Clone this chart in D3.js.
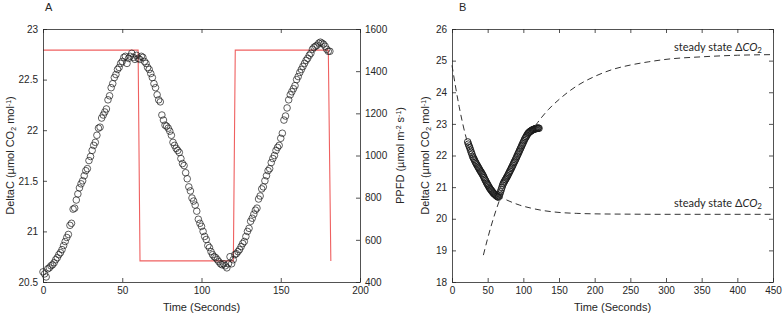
<!DOCTYPE html>
<html>
<head>
<meta charset="utf-8">
<script src="https://cdn.jsdelivr.net/npm/d3@7"></script>
<style>
    body { margin: 0; background: #fff; }
    svg text { font-family: "Liberation Sans", Arial, sans-serif; fill: #262626; }
    .axis path, .axis line { stroke: #262626; stroke-width: 0.8; }
    .axis text { font-size: 10px; }
    .note text { font-family: Lato, "Open Sans", sans-serif; }
</style>
</head>
<body>
<div id="chart"></div>
<script>
//
// Light response chart (A: DeltaC + PPFD vs time, B: DeltaC with steady state fits)
//

const _width = 784;
const _height = 315;
const _plotTop = 29;
const _plotBottom = 282;

// panel A : time (s) and DeltaC, one point per second
var _aTime = d3.range(0, 182);
var _aDeltaC = [
    20.60, 20.58, 20.55, 20.63, 20.64, 20.66, 20.67, 20.69, 20.72, 20.74,
    20.77, 20.79, 20.82, 20.86, 20.90, 20.94, 20.97, 21.06, 21.08, 21.22,
    21.23, 21.31, 21.37, 21.43, 21.47, 21.50, 21.55, 21.60, 21.62, 21.70,
    21.74, 21.80, 21.85, 21.88, 21.95, 22.02, 22.03, 22.12, 22.15, 22.18,
    22.21, 22.30, 22.34, 22.42, 22.46, 22.52, 22.55, 22.60, 22.62, 22.66,
    22.68, 22.72, 22.73, 22.66, 22.71, 22.73, 22.76, 22.72, 22.70, 22.74,
    22.71, 22.70, 22.73, 22.72, 22.68, 22.66, 22.62, 22.60, 22.56, 22.52,
    22.46, 22.42, 22.35, 22.30, 22.28, 22.15, 22.10, 22.05, 22.04, 22.02,
    21.99, 21.95, 21.88, 21.85, 21.82, 21.80, 21.78, 21.72, 21.67, 21.65,
    21.58, 21.52, 21.44, 21.40, 21.33, 21.30, 21.26, 21.20, 21.12, 21.08,
    21.05, 21.00, 20.95, 20.92, 20.86, 20.84, 20.80, 20.77, 20.75, 20.74,
    20.72, 20.70, 20.68, 20.67, 20.68, 20.66, 20.64, 20.68, 20.75, 20.68,
    20.72, 20.77, 20.78, 20.80, 20.82, 20.85, 20.88, 20.90, 20.95, 21.00,
    21.03, 21.10, 21.13, 21.17, 21.21, 21.23, 21.32, 21.35, 21.42, 21.44,
    21.50, 21.55, 21.60, 21.62, 21.68, 21.72, 21.75, 21.80, 21.83, 21.85,
    21.92, 21.97, 22.10, 22.14, 22.22, 22.30, 22.35, 22.38, 22.41, 22.44,
    22.50, 22.53, 22.57, 22.60, 22.63, 22.66, 22.69, 22.71, 22.74, 22.76,
    22.80, 22.82, 22.83, 22.84, 22.86, 22.87, 22.86, 22.85, 22.83, 22.80,
    22.78, 22.78
];

// panel A : light steps (right axis)
var _ppfdTime = [0, 60, 61.2, 120.1, 121.3, 180, 181.6];
var _ppfdValue = [1500, 1500, 500, 500, 1500, 1500, 500];

var _aXTicks = [0, 50, 100, 150, 200];
var _aYTicks = [20.5, 21, 21.5, 22, 22.5, 23];
var _aY2Ticks = [400, 600, 800, 1000, 1200, 1400, 1600];

// panel B : measured DeltaC
var _bTime = d3.range(22, 123);
var _bDeltaC = [
    22.43, 22.36, 22.30, 22.24, 22.17, 22.10, 22.04, 21.97, 21.92, 21.88,
    21.83, 21.78, 21.74, 21.70, 21.66, 21.62, 21.58, 21.54, 21.50, 21.47,
    21.43, 21.39, 21.35, 21.30, 21.25, 21.21, 21.16, 21.12, 21.08, 21.04,
    21.00, 20.96, 20.93, 20.90, 20.87, 20.84, 20.81, 20.79, 20.77, 20.75,
    20.73, 20.71, 20.70, 20.68, 20.72, 20.78, 20.85, 20.92, 20.99, 21.06,
    21.12, 21.16, 21.20, 21.24, 21.28, 21.32, 21.36, 21.41, 21.45, 21.50,
    21.54, 21.59, 21.63, 21.68, 21.73, 21.78, 21.82, 21.87, 21.92, 21.97,
    22.02, 22.07, 22.12, 22.17, 22.22, 22.27, 22.32, 22.37, 22.42, 22.47,
    22.52, 22.56, 22.60, 22.64, 22.68, 22.71, 22.73, 22.75, 22.77, 22.78,
    22.80, 22.81, 22.82, 22.83, 22.84, 22.85, 22.85, 22.86, 22.86, 22.87,
    22.86
];

// panel B : fitted curves
var _fitDownTime = [0, 10, 20, 30, 40, 50, 60, 70, 80, 95, 110, 125, 150, 175, 200, 250, 300, 450];
var _fitDownValue = [24.85, 23.55, 22.55, 21.90, 21.42, 21.08, 20.84, 20.67, 20.56, 20.43, 20.34, 20.27, 20.20, 20.17, 20.155, 20.145, 20.14, 20.14];
var _fitUpTime = [44, 50, 60, 70, 80, 90, 100, 110, 120, 135, 150, 175, 200, 225, 250, 275, 300, 350, 400, 450];
var _fitUpValue = [18.85, 19.38, 20.15, 20.80, 21.39, 21.89, 22.33, 22.71, 23.04, 23.45, 23.77, 24.20, 24.50, 24.72, 24.86, 24.96, 25.04, 25.12, 25.17, 25.19];

var _bXTicks = d3.range(0, 451, 50);
var _bYTicks = d3.range(18, 27, 1);

var svg = d3.select("#chart")
    .append("svg")
    .attr("width", _width)
    .attr("height", _height);

function drawFrame(x, y, xTicks, yTicks, mirrorY) {
    var x0 = x.range()[0], x1 = x.range()[1];

    svg.append("g")
        .attr("class", "axis")
        .attr("transform", "translate(0," + _plotBottom + ")")
        .call(d3.axisBottom(x).tickValues(xTicks).tickSize(-4).tickSizeOuter(0).tickPadding(5).tickFormat(d3.format("")));
    svg.append("g")
        .attr("class", "axis")
        .attr("transform", "translate(0," + _plotTop + ")")
        .call(d3.axisTop(x).tickValues(xTicks).tickSize(-4).tickSizeOuter(0).tickFormat(""));
    svg.append("g")
        .attr("class", "axis")
        .attr("transform", "translate(" + x0 + ",0)")
        .call(d3.axisLeft(y).tickValues(yTicks).tickSize(-4).tickSizeOuter(0).tickPadding(5).tickFormat(d3.format("")));
    if (mirrorY) {
        svg.append("g")
            .attr("class", "axis")
            .attr("transform", "translate(" + x1 + ",0)")
            .call(d3.axisRight(y).tickValues(yTicks).tickSize(-4).tickSizeOuter(0).tickFormat(""));
    }

    svg.append("text")
        .attr("x", (x0 + x1) / 2)
        .attr("y", 311)
        .attr("text-anchor", "middle")
        .style("font-size", "11px")
        .text("Time (Seconds)");
}

function yLabel(xPos, parts) {
    var t = svg.append("text")
        .attr("transform", "translate(" + xPos + "," + ((_plotTop + _plotBottom) / 2) + ") rotate(-90)")
        .attr("text-anchor", "middle")
        .style("font-size", "11px");
    parts.forEach(function (p) {
        var s = t.append("tspan").text(p[0]);
        if (p[1] == "sub") s.attr("baseline-shift", "-25%").style("font-size", "7px");
        if (p[1] == "sup") s.attr("baseline-shift", "45%").style("font-size", "7px");
    });
}

var deltaCLabel = [["DeltaC (µmol CO"], ["2", "sub"], [" mol"], ["-1", "sup"], [")"]];

// ---------- panel A ----------
var xA = d3.scaleLinear().domain([0, 200]).range([43, 360]);
var yA = d3.scaleLinear().domain([20.5, 23]).range([_plotBottom, _plotTop]);
var yA2 = d3.scaleLinear().domain([400, 1600]).range([_plotBottom, _plotTop]);

svg.append("path")
    .datum(_ppfdTime.map(function (t, i) { return [t, _ppfdValue[i]]; }))
    .attr("fill", "none")
    .attr("stroke", "#ef6060")
    .attr("stroke-width", 1.1)
    .attr("d", d3.line().x(function (d) { return xA(d[0]); }).y(function (d) { return yA2(d[1]); }));

svg.append("g")
    .selectAll("circle")
    .data(_aTime.map(function (t, i) { return [t, _aDeltaC[i]]; }))
    .enter()
    .append("circle")
    .attr("cx", function (d) { return xA(d[0]); })
    .attr("cy", function (d) { return yA(d[1]); })
    .attr("r", 3.3)
    .attr("fill", "none")
    .attr("stroke", "#1a1a1a")
    .attr("stroke-width", 0.7);

drawFrame(xA, yA, _aXTicks, _aYTicks, false);
svg.append("g")
    .attr("class", "axis")
    .attr("transform", "translate(360,0)")
    .call(d3.axisRight(yA2).tickValues(_aY2Ticks).tickSize(-4).tickSizeOuter(0).tickPadding(5).tickFormat(d3.format("d")));

yLabel(14, deltaCLabel);
yLabel(404, [["PPFD (µmol m"], ["-2", "sup"], [" s"], ["-1", "sup"], [")"]]);

svg.append("text").attr("x", 45).attr("y", 11).style("font-size", "11px").text("A");

// ---------- panel B ----------
var xB = d3.scaleLinear().domain([0, 450]).range([452, 773]);
var yB = d3.scaleLinear().domain([18, 26]).range([_plotBottom, _plotTop]);

svg.append("g")
    .selectAll("circle")
    .data(_bTime.map(function (t, i) { return [t, _bDeltaC[i]]; }))
    .enter()
    .append("circle")
    .attr("cx", function (d) { return xB(d[0]); })
    .attr("cy", function (d) { return yB(d[1]); })
    .attr("r", 3.3)
    .attr("fill", "none")
    .attr("stroke", "#1a1a1a")
    .attr("stroke-width", 0.9);

var fitLine = d3.line()
    .curve(d3.curveMonotoneX)
    .x(function (d) { return xB(d[0]); })
    .y(function (d) { return yB(d[1]); });

[[_fitDownTime, _fitDownValue], [_fitUpTime, _fitUpValue]].forEach(function (f) {
    svg.append("path")
        .datum(f[0].map(function (t, i) { return [t, f[1][i]]; }))
        .attr("fill", "none")
        .attr("stroke", "#333")
        .attr("stroke-width", 1)
        .attr("stroke-dasharray", "6,4")
        .attr("d", fitLine);
});

drawFrame(xB, yB, _bXTicks, _bYTicks, true);
yLabel(429, deltaCLabel);

svg.append("text").attr("x", 459).attr("y", 11).style("font-size", "11px").text("B");

// steady state annotations
function steadyLabel(yPos) {
    var t = svg.append("g").attr("class", "note").append("text")
        .attr("x", 762)
        .attr("y", yPos)
        .attr("text-anchor", "end")
        .style("font-size", "11px");
    t.append("tspan").text("steady state Δ");
    t.append("tspan").style("font-style", "italic").text("CO");
    t.append("tspan").attr("baseline-shift", "-25%").style("font-size", "8px").text("2");
}
steadyLabel(51);
steadyLabel(207);
</script>
</body>
</html>
